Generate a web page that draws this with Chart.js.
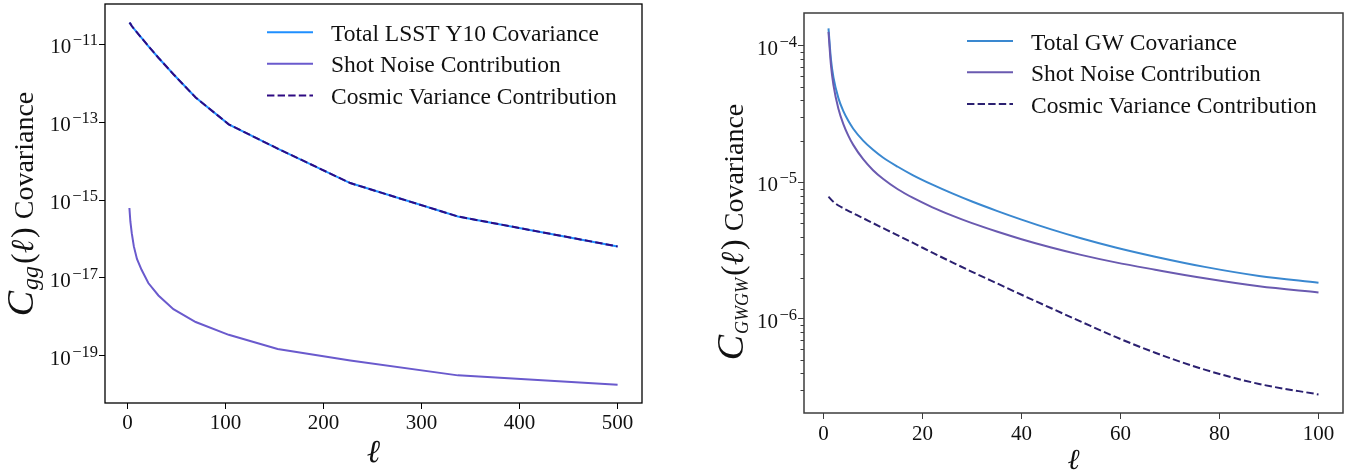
<!DOCTYPE html>
<html>
<head>
<meta charset="utf-8">
<script src="https://cdn.jsdelivr.net/npm/chart.js@4.4.1/dist/chart.umd.min.js"></script>
<style>
  body { margin: 0; background: #fff; }
  canvas { position: absolute; top: 0; }
  #ggChart { left: 0; }
  #gwChart { left: 680px; }
</style>
</head>
<body>
<canvas id="ggChart" width="660" height="472"></canvas>
<canvas id="gwChart" width="671" height="472"></canvas>
<script>
// Galaxy clustering covariance, log-spaced multipole bins
const ellGG = [2, 2.97, 4.40, 6.53, 9.69, 14.4, 21.3, 31.6, 46.9, 69.6, 103.3, 153.2, 227.3, 337.1, 500];
const totalGG = [3.58e-11, 3.37e-11, 2.94e-11, 2.53e-11, 2.02e-11, 1.45e-11, 9.0e-12, 4.51e-12, 1.70e-12, 4.28e-13, 8.79e-14, 2.10e-14, 2.73e-15, 3.79e-16, 6.46e-17];
const shotGG = [6.24e-16, 2.82e-16, 1.41e-16, 6.46e-17, 3.09e-17, 1.62e-17, 7.41e-18, 3.55e-18, 1.58e-18, 7.41e-19, 3.47e-19, 1.51e-19, 7.59e-20, 3.16e-20, 1.82e-20];
const cosmicGG = [3.58e-11, 3.37e-11, 2.94e-11, 2.53e-11, 2.02e-11, 1.45e-11, 9.0e-12, 4.51e-12, 1.70e-12, 4.28e-13, 8.79e-14, 2.10e-14, 2.73e-15, 3.79e-16, 6.46e-17];
const labelsGG = ['Total LSST Y10 Covariance', 'Shot Noise Contribution', 'Cosmic Variance Contribution'];
const yTicksGG = [1e-11, 1e-13, 1e-15, 1e-17, 1e-19];
const xTicksGG = [0, 100, 200, 300, 400, 500];

// GW source covariance
const ellGW = [1, 1.5, 2, 3, 4, 5, 6, 8, 10, 12, 15, 18, 22, 26, 30, 35, 40, 46, 52, 59, 67, 77, 88, 100];
const totalGW = [1.343e-4, 7.93e-5, 5.87e-5, 4.14e-5, 3.32e-5, 2.82e-5, 2.47e-5, 2.02e-5, 1.73e-5, 1.52e-5, 1.30e-5, 1.13e-5, 9.61e-6, 8.29e-6, 7.23e-6, 6.18e-6, 5.33e-6, 4.52e-6, 3.89e-6, 3.33e-6, 2.85e-6, 2.40e-6, 2.06e-6, 1.84e-6];
const shotGW = [1.265e-4, 7.18e-5, 5.15e-5, 3.46e-5, 2.67e-5, 2.20e-5, 1.88e-5, 1.476e-5, 1.227e-5, 1.062e-5, 8.89e-6, 7.71e-6, 6.56e-6, 5.70e-6, 5.02e-6, 4.36e-6, 3.83e-6, 3.33e-6, 2.94e-6, 2.59e-6, 2.29e-6, 1.98e-6, 1.73e-6, 1.56e-6];
const cosmicGW = [7.85e-6, 7.50e-6, 7.19e-6, 6.76e-6, 6.46e-6, 6.18e-6, 5.93e-6, 5.46e-6, 5.02e-6, 4.62e-6, 4.08e-6, 3.61e-6, 3.05e-6, 2.59e-6, 2.21e-6, 1.82e-6, 1.50e-6, 1.194e-6, 9.53e-7, 7.36e-7, 5.64e-7, 4.24e-7, 3.33e-7, 2.79e-7];
const labelsGW = ['Total GW Covariance', 'Shot Noise Contribution', 'Cosmic Variance Contribution'];
const yTicksGW = [1e-4, 1e-5, 1e-6];
const xTicksGW = [0, 20, 40, 60, 80, 100];

const SERIF = '"Liberation Serif", "DejaVu Serif", serif';

function pts(xs, ys) {
    return xs.map((x, i) => ({ x: x, y: ys[i] }));
}

// draws a row of text pieces (font, text, baseline shift, gap) centred on 0
function drawPieces(ctx, pieces) {
    let w = 0;
    pieces.forEach(p => {
        ctx.font = p.font;
        p.w = ctx.measureText(p.t).width + (p.gap || 0);
        w += p.w;
    });
    let x = -w / 2;
    pieces.forEach(p => {
        ctx.font = p.font;
        ctx.fillText(p.t, x, p.dy || 0);
        x += p.w;
    });
}

// frame, minor ticks, 10^n labels, axis titles and legend
const decor = {
    id: 'decor',
    afterDraw(chart, args, o) {
        const ctx = chart.ctx;
        const a = chart.chartArea;
        const ys = chart.scales.y;
        ctx.save();

        ctx.strokeStyle = o.frameColor;
        ctx.lineWidth = o.frameWidth;
        ctx.strokeRect(a.left, a.top, a.right - a.left, a.bottom - a.top);

        if (o.minorTicks) {
            ctx.lineWidth = 1;
            for (let k = -8; k <= -3; k++) {
                for (let m = 2; m <= 9; m++) {
                    const v = m * Math.pow(10, k);
                    if (v < ys.min || v > ys.max) continue;
                    const y = Math.round(ys.getPixelForValue(v)) + 0.5;
                    ctx.beginPath();
                    ctx.moveTo(a.left - 3.5, y);
                    ctx.lineTo(a.left, y);
                    ctx.stroke();
                }
            }
        }

        ctx.fillStyle = '#111';
        ctx.textBaseline = 'alphabetic';
        ctx.textAlign = 'left';
        ys.ticks.forEach(t => {
            const y = ys.getPixelForValue(t.value);
            const exp = '\u2212' + Math.round(-Math.log10(t.value));
            ctx.font = '16.5px ' + SERIF;
            const ew = ctx.measureText(exp).width;
            ctx.font = '21px ' + SERIF;
            const bw = ctx.measureText('10').width;
            const xr = a.left - 7;
            ctx.fillText('10', xr - ew - bw - 1.5, y + 9);
            ctx.font = '16.5px ' + SERIF;
            ctx.fillText(exp, xr - ew, y + 1);
        });

        // y title, rotated
        ctx.save();
        ctx.translate(o.yTitleX, o.yTitleY);
        ctx.rotate(-Math.PI / 2);
        drawPieces(ctx, o.yTitle);
        ctx.restore();

        // x title
        ctx.font = 'italic ' + o.xTitleSize + 'px ' + SERIF;
        ctx.textAlign = 'center';
        ctx.fillText('\u2113', (a.left + a.right) / 2, o.xTitleY);

        // legend
        ctx.textAlign = 'left';
        ctx.font = '23.5px ' + SERIF;
        chart.data.datasets.forEach((ds, i) => {
            const y = o.legendY[i];
            ctx.strokeStyle = ds.borderColor;
            ctx.lineWidth = ds.borderWidth;
            ctx.setLineDash(ds.borderDash || []);
            ctx.beginPath();
            ctx.moveTo(o.legendX[0], y);
            ctx.lineTo(o.legendX[1], y);
            ctx.stroke();
            ctx.setLineDash([]);
            ctx.fillStyle = '#111';
            ctx.fillText(ds.label, o.legendX[2], y + 8.5);
        });
        ctx.restore();
    }
};

function makeChart(id, cfg) {
    return new Chart(document.getElementById(id), {
        type: 'line',
        data: {
            datasets: [
                { label: cfg.labels[0], data: pts(cfg.ell, cfg.total), borderColor: cfg.colors[0], borderWidth: 2, order: 2 },
                { label: cfg.labels[1], data: pts(cfg.ell, cfg.shot), borderColor: cfg.colors[1], borderWidth: 2, order: 1 },
                { label: cfg.labels[2], data: pts(cfg.ell, cfg.cosmic), borderColor: cfg.colors[2], borderWidth: 2, borderDash: [7.4, 3.2], order: 0 }
            ]
        },
        options: {
            responsive: false,
            animation: false,
            devicePixelRatio: 1,
            layout: { padding: cfg.padding },
            elements: {
                point: { radius: 0 },
                line: { tension: 0, cubicInterpolationMode: cfg.smooth ? 'monotone' : 'default', borderCapStyle: 'butt' }
            },
            plugins: {
                legend: { display: false },
                tooltip: { enabled: false },
                decor: cfg.decor
            },
            scales: {
                x: {
                    type: 'linear',
                    min: cfg.xMin,
                    max: cfg.xMax,
                    afterBuildTicks: s => { s.ticks = cfg.xTicks.map(v => ({ value: v })); },
                    afterFit: s => { s.height = cfg.xHeight; },
                    border: { display: false },
                    grid: { drawOnChartArea: false, drawTicks: true, tickLength: 6, tickColor: cfg.decor.frameColor },
                    ticks: { color: '#111', font: { family: SERIF, size: 21 }, padding: cfg.xPad, maxRotation: 0 }
                },
                y: {
                    type: 'logarithmic',
                    min: cfg.yMin,
                    max: cfg.yMax,
                    afterBuildTicks: s => { s.ticks = cfg.yTicks.map(v => ({ value: v })); },
                    afterFit: s => { s.width = cfg.yWidth; },
                    border: { display: false },
                    grid: { drawOnChartArea: false, drawTicks: true, tickLength: 6, tickColor: cfg.decor.frameColor },
                    ticks: { display: false }
                }
            }
        },
        plugins: [decor]
    });
}

makeChart('ggChart', {
    ell: ellGG, total: totalGG, shot: shotGG, cosmic: cosmicGG, labels: labelsGG,
    colors: ['#1f8fff', '#6a5acd', '#2e0a82'],
    xMin: -22.9, xMax: 524.9, xTicks: xTicksGG,
    yMin: 6.17e-21, yMax: 1.08e-10, yTicks: yTicksGG,
    padding: { top: 4, right: 18, left: 0, bottom: 0 },
    xHeight: 69, yWidth: 105, xPad: 2, smooth: false,
    decor: {
        frameColor: '#000', frameWidth: 1.3, minorTicks: false,
        legendX: [267, 313, 331], legendY: [32.3, 63.8, 95.5],
        xTitleSize: 32, xTitleY: 462,
        yTitleX: 33, yTitleY: 204,
        yTitle: [
            { t: 'C', font: 'italic 38px ' + SERIF, gap: 1 },
            { t: 'gg', font: 'italic 24px ' + SERIF, dy: 5, gap: 2 },
            { t: '(', font: '32px ' + SERIF },
            { t: '\u2113', font: 'italic 32px ' + SERIF, gap: 2 },
            { t: ')', font: '32px ' + SERIF, gap: 8 },
            { t: 'Covariance', font: '28px ' + SERIF }
        ]
    }
});

makeChart('gwChart', {
    ell: ellGW, total: totalGW, shot: shotGW, cosmic: cosmicGW, labels: labelsGW,
    colors: ['#3a88d0', '#6a5ab0', '#2b2070'],
    xMin: -3.95, xMax: 104.95, xTicks: xTicksGW,
    yMin: 2.04e-7, yMax: 1.74e-4, yTicks: yTicksGW,
    padding: { top: 13, right: 8, left: 0, bottom: 0 },
    xHeight: 59, yWidth: 124, xPad: 3, smooth: true,
    decor: {
        frameColor: '#3c3c3c', frameWidth: 1.5, minorTicks: true,
        legendX: [287, 333, 351], legendY: [41, 72.3, 104],
        xTitleSize: 29, xTitleY: 469,
        yTitleX: 63, yTitleY: 232,
        yTitle: [
            { t: 'C', font: 'italic 38px ' + SERIF, gap: 1 },
            { t: 'GWGW', font: 'italic 18px ' + SERIF, dy: 5, gap: 2 },
            { t: '(', font: '32px ' + SERIF },
            { t: '\u2113', font: 'italic 32px ' + SERIF, gap: 2 },
            { t: ')', font: '32px ' + SERIF, gap: 8 },
            { t: 'Covariance', font: '28px ' + SERIF }
        ]
    }
});
</script>
</body>
</html>
